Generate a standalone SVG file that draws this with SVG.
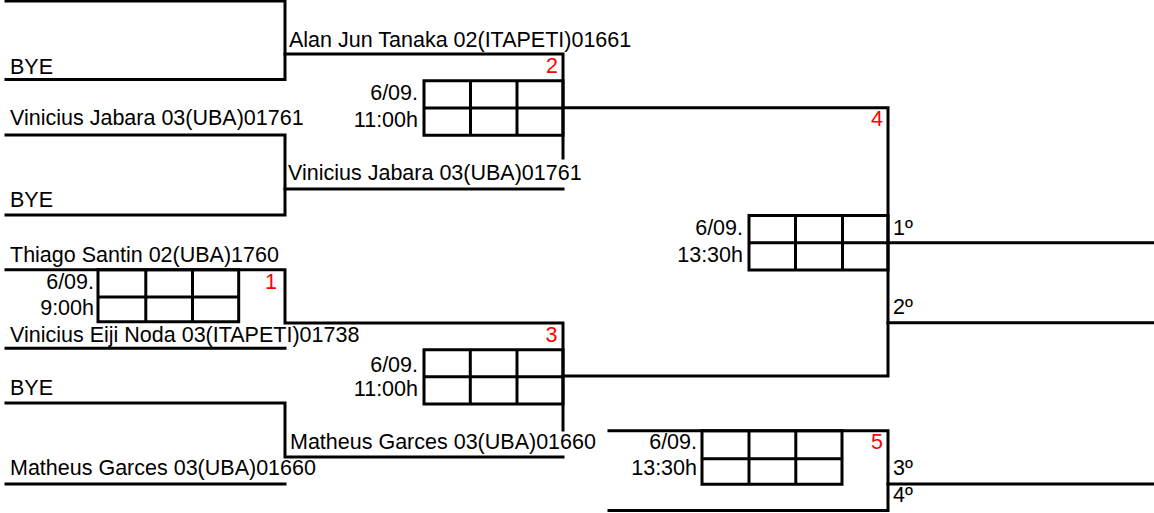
<svg xmlns="http://www.w3.org/2000/svg" width="1154" height="513" viewBox="0 0 1154 513">
<style>
.ln{stroke:#000;stroke-width:3;fill:none;stroke-linecap:square}
.bx{stroke:#000;stroke-width:3;fill:none}
text{font-family:"Liberation Sans",Arial,sans-serif;font-size:21.5px;fill:#000}
.r{text-anchor:end}
.num{fill:#ff0000;text-anchor:end}
</style>
<rect width="1154" height="513" fill="#fff"/>
<g id="connectors">
<path class="ln" d="M6 1H285V79.5H6"/>
<path class="ln" d="M285 54H563V158"/>
<path class="ln" d="M563 107.7H888V376H563"/>
<path class="ln" d="M6 135H285V215H6"/>
<path class="ln" d="M285 189H563"/>
<path class="ln" d="M888 242.7H1154"/>
<path class="ln" d="M6 269.7H285V323H563V430"/>
<path class="ln" d="M888 322.8H1154"/>
<path class="ln" d="M6 348.3H285"/>
<path class="ln" d="M6 403H285V457H563"/>
<path class="ln" d="M6 484H285"/>
<path class="ln" d="M609 430.7H888V510.5H609"/>
<path class="ln" d="M888 484H1154"/>
</g>
<g id="players">
<text x="10" y="74">BYE</text>
<text x="289" y="47">Alan Jun Tanaka 02(ITAPETI)01661</text>
<text x="10" y="125">Vinicius Jabara 03(UBA)01761</text>
<text x="288" y="180">Vinicius Jabara 03(UBA)01761</text>
<text x="10" y="207">BYE</text>
<text x="10" y="262">Thiago Santin 02(UBA)1760</text>
<text x="10" y="341.5">Vinicius Eiji Noda 03(ITAPETI)01738</text>
<text x="10" y="395">BYE</text>
<text x="290" y="449">Matheus Garces 03(UBA)01660</text>
<text x="10" y="475">Matheus Garces 03(UBA)01660</text>
</g>
<g id="match1">
<path class="bx" d="M98 269.7H238.7V321.7H98Z M98 297H238.7 M145.8 269.7V321.7 M192.5 269.7V321.7"/>
<text class="r" x="94" y="288.5">6/09.</text>
<text class="r" x="94" y="315">9:00h</text>
<text class="num" x="277" y="288.5">1</text>
</g>
<g id="match2">
<path class="bx" d="M424 80.7H563V135.3H424Z M424 108H563 M470.5 80.7V135.3 M517 80.7V135.3"/>
<text class="r" x="418" y="100">6/09.</text>
<text class="r" x="418" y="126.5">11:00h</text>
<text class="num" x="558" y="73">2</text>
</g>
<g id="match3">
<path class="bx" d="M424 349.7H563V404H424Z M424 376.7H563 M470.3 349.7V404 M517 349.7V404"/>
<text class="r" x="418" y="372">6/09.</text>
<text class="r" x="418" y="396">11:00h</text>
<text class="num" x="557.5" y="341.5">3</text>
</g>
<g id="match4">
<path class="bx" d="M749 215.6H888V270H749Z M749 242.7H888 M795.5 215.6V270 M842.5 215.6V270"/>
<text class="r" x="743" y="235">6/09.</text>
<text class="r" x="743" y="261.5">13:30h</text>
<text class="num" x="883" y="126">4</text>
<text x="893" y="235">1º</text>
<text x="893" y="313.5">2º</text>
</g>
<g id="match5">
<path class="bx" d="M702 430.7H842V484.2H702Z M702 458.8H842 M749 430.7V484.2 M795.8 430.7V484.2"/>
<text class="r" x="697" y="448.5">6/09.</text>
<text class="r" x="697" y="475">13:30h</text>
<text class="num" x="883" y="449">5</text>
<text x="893" y="475">3º</text>
<text x="893" y="502">4º</text>
</g>
</svg>
